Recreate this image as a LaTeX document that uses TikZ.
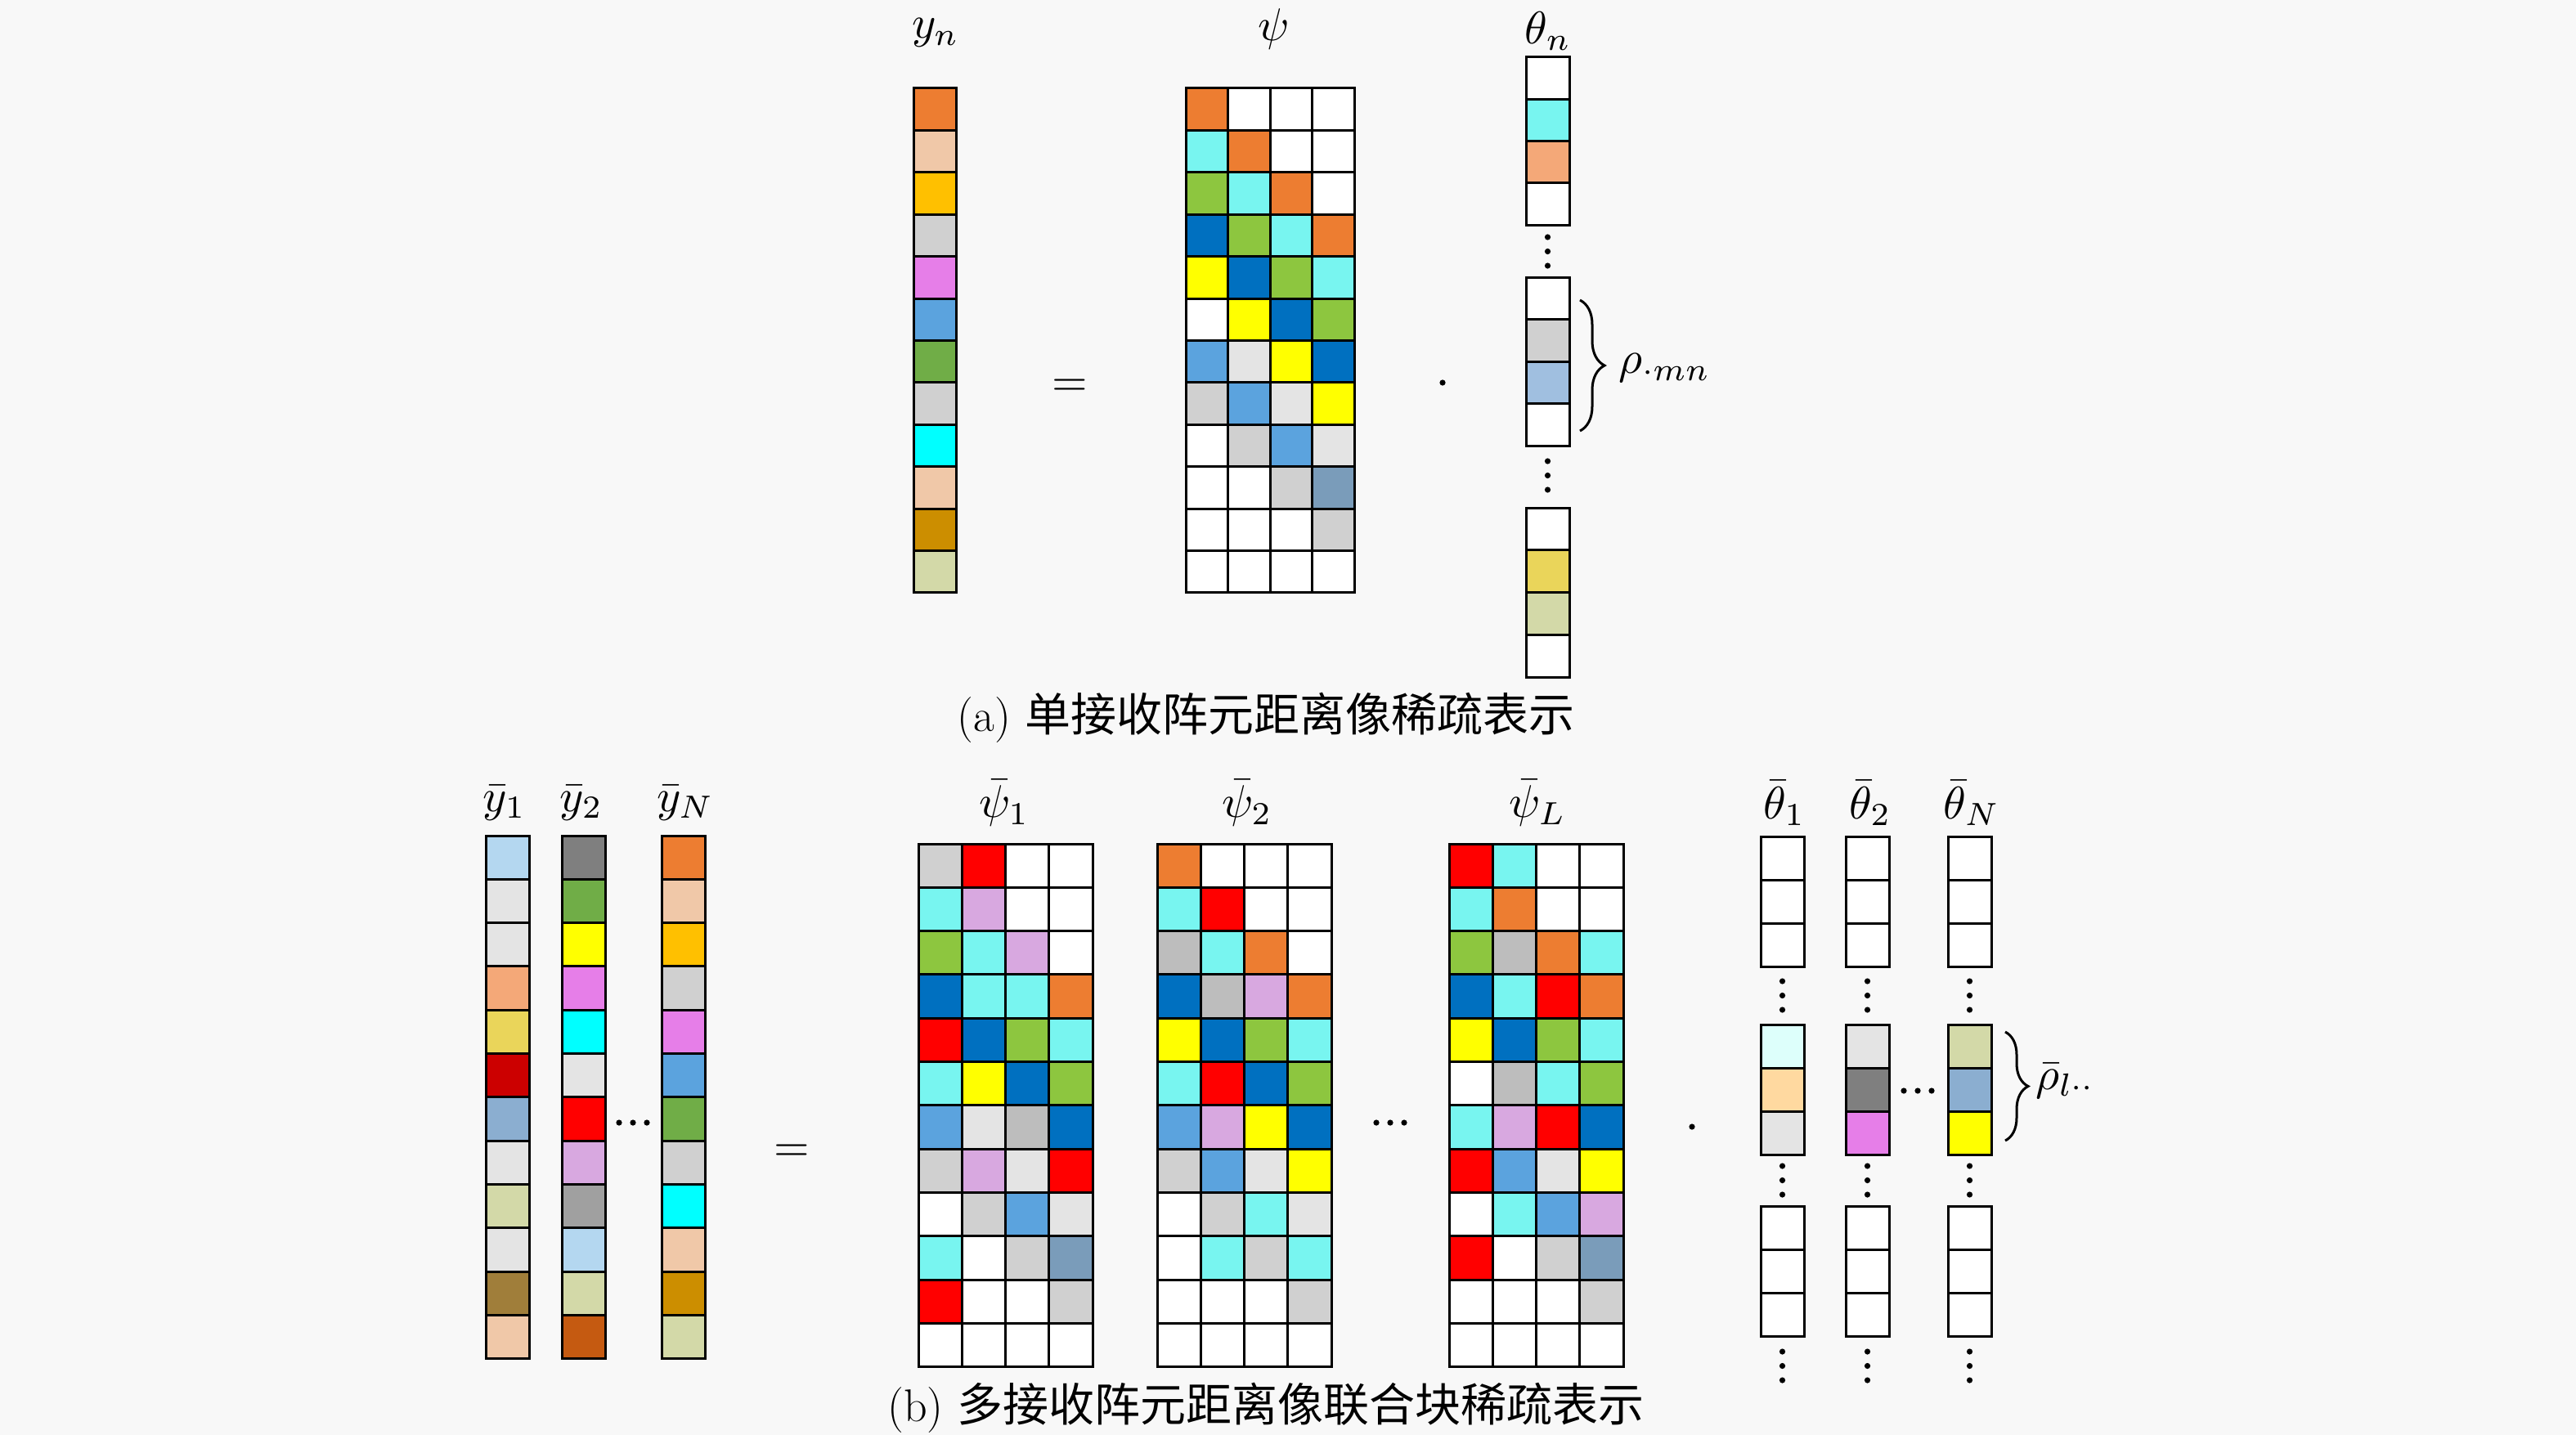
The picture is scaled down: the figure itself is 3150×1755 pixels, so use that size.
\documentclass[tikz,border=0pt]{standalone}
\usepackage{fontspec}
\newfontfamily\cjk{Noto Sans CJK SC}
\usetikzlibrary{decorations.pathreplacing}
\definecolor{bg}{HTML}{F8F8F8}
\definecolor{cOr}{HTML}{ED7D31}
\definecolor{cPe}{HTML}{F0C8A8}
\definecolor{cGo}{HTML}{FFC000}
\definecolor{cLg}{HTML}{D0D0D0}
\definecolor{cVi}{HTML}{E67EE8}
\definecolor{cBl}{HTML}{5BA3DE}
\definecolor{cGr}{HTML}{70AD47}
\definecolor{cCy}{HTML}{00FFFF}
\definecolor{cDg}{HTML}{CC8E00}
\definecolor{cKh}{HTML}{D3D9A8}
\definecolor{cLc}{HTML}{78F5F0}
\definecolor{cGa}{HTML}{8DC63F}
\definecolor{cDb}{HTML}{0070C0}
\definecolor{cYe}{HTML}{FFFF00}
\definecolor{cLt}{HTML}{E4E4E4}
\definecolor{cSb}{HTML}{7A9CBA}
\definecolor{cLo}{HTML}{F4A878}
\definecolor{cLb}{HTML}{A0BFE0}
\definecolor{cYg}{HTML}{EAD55A}
\definecolor{cSk}{HTML}{B4D7F0}
\definecolor{cDr}{HTML}{CC0000}
\definecolor{cSl}{HTML}{8BAED0}
\definecolor{cBr}{HTML}{A07E3A}
\definecolor{cDk}{HTML}{7F7F7F}
\definecolor{cRe}{HTML}{FF0000}
\definecolor{cLi}{HTML}{D8A8E0}
\definecolor{cGm}{HTML}{A0A0A0}
\definecolor{cBo}{HTML}{C55A11}
\definecolor{cGy}{HTML}{BDBDBD}
\definecolor{cIc}{HTML}{DDFFFB}
\definecolor{cAp}{HTML}{FFD9A0}
\tikzset{
  cellline/.style={draw=black, line width=3pt},
  lab/.style={font=\fontsize{10}{12}\selectfont, inner sep=0pt, scale=5.6, transform shape},
  capt/.style={font=\fontsize{56}{64}\selectfont, inner sep=0pt},
  dotc/.style={fill=black},
  bracestyle/.style={line width=3pt, decorate, decoration={brace, amplitude=#1}}
}
% column of cells: x0, y0, width, height, colors
\newcommand{\cellcolumn}[5]{%
  \foreach \cc [count=\ii from 0] in {#5} {
    \fill[fill=\cc] (#1,{#2+\ii*#4}) rectangle ++(#3,#4);
  }
  \foreach \cc [count=\ii from 0] in {#5} {
    \draw[cellline] (#1,{#2+\ii*#4}) rectangle ++(#3,#4);
  }
}
% matrix of cells: x0, y0, width, height, rows
\newcommand{\cellmatrix}[5]{%
  \foreach \rw [count=\rr from 0] in {#5} {
    \foreach \cc [count=\kk from 0] in \rw {
      \fill[fill=\cc] ({#1+\kk*#3},{#2+\rr*#4}) rectangle ++(#3,#4);
    }
  }
  \foreach \rw [count=\rr from 0] in {#5} {
    \foreach \cc [count=\kk from 0] in \rw {
      \draw[cellline] ({#1+\kk*#3},{#2+\rr*#4}) rectangle ++(#3,#4);
    }
  }
}
\newcommand{\vdotsat}[2]{% x, y of top dot
  \fill[dotc] ({#1},{#2}) circle (3.6);
  \fill[dotc] ({#1},{#2+17.5}) circle (3.6);
  \fill[dotc] ({#1},{#2+35}) circle (3.6);
}
\newcommand{\hdotsat}[2]{% x of left dot, y
  \fill[dotc] ({#1},{#2}) circle (3.6);
  \fill[dotc] ({#1+17},{#2}) circle (3.6);
  \fill[dotc] ({#1+34},{#2}) circle (3.6);
}
\begin{document}
\begin{tikzpicture}[x=1pt, y=-1pt]
\useasboundingbox (0,0) rectangle (3150,1755);
\fill[bg] (0,0) rectangle (3150,1755);

% ---------------- (a) ----------------
\node[lab] (lyn) at (1144,40) {$y_n$};
\node[lab] (lpsi) at (1558,36) {$\psi$};
\node[lab] (ltheta) at (1893,38) {$\theta_n$};

\cellcolumn{1117}{108}{52}{51.4}{cOr,cPe,cGo,cLg,cVi,cBl,cGr,cLg,cCy,cPe,cDg,cKh}

\node[lab] (eqa) at (1308,474) {$=$};

\cellmatrix{1450}{108}{51.5}{51.4}{
{cOr,white,white,white},
{cLc,cOr,white,white},
{cGa,cLc,cOr,white},
{cDb,cGa,cLc,cOr},
{cYe,cDb,cGa,cLc},
{white,cYe,cDb,cGa},
{cBl,cLt,cYe,cDb},
{cLg,cBl,cLt,cYe},
{white,cLg,cBl,cLt},
{white,white,cLg,cSb},
{white,white,white,cLg},
{white,white,white,white}}

\fill[dotc] (1764,468) circle (3.6);

\cellcolumn{1866}{70}{53}{51.3}{white,cLc,cLo,white}
\vdotsat{1892.5}{290}
\cellcolumn{1866}{339}{53}{51.5}{white,cLg,cLb,white}
\vdotsat{1892.5}{564}
\cellcolumn{1866}{621}{53}{51.8}{white,cYg,cKh,white}

\coordinate (bra1) at (1932,367);
\coordinate (bra2) at (1932,527);
\draw[bracestyle=30pt] (bra1) -- (bra2);
\node[lab, anchor=west] (lrho) at (1978,450) {$\rho_{\cdot mn}$};

\node[capt] (capa) at (1548,878) {(a) {\cjk 单接收阵元距离像稀疏表示}};

% ---------------- (b) ----------------
\node[lab] (ly1) at (617,982) {$\bar{y}_1$};
\node[lab] (ly2) at (711,982) {$\bar{y}_2$};
\node[lab] (lyN) at (838,982) {$\bar{y}_N$};

\cellcolumn{594}{1022}{53}{53.3}{cSk,cLt,cLt,cLo,cYg,cDr,cSl,cLt,cKh,cLt,cBr,cPe}
\cellcolumn{687}{1022}{53}{53.3}{cDk,cGr,cYe,cVi,cCy,cLt,cRe,cLi,cGm,cSk,cKh,cBo}
\hdotsat{757}{1373}
\cellcolumn{809}{1022}{53}{53.3}{cOr,cPe,cGo,cLg,cVi,cBl,cGr,cLg,cCy,cPe,cDg,cKh}

\node[lab] (eqb) at (968,1410) {$=$};

\node[lab] (lp1) at (1228,982) {$\bar{\psi}_1$};
\node[lab] (lp2) at (1525,982) {$\bar{\psi}_2$};
\node[lab] (lpL) at (1880,982) {$\bar{\psi}_L$};

\cellmatrix{1123}{1032}{53.3}{53.3}{
{cLg,cRe,white,white},
{cLc,cLi,white,white},
{cGa,cLc,cLi,white},
{cDb,cLc,cLc,cOr},
{cRe,cDb,cGa,cLc},
{cLc,cYe,cDb,cGa},
{cBl,cLt,cGy,cDb},
{cLg,cLi,cLt,cRe},
{white,cLg,cBl,cLt},
{cLc,white,cLg,cSb},
{cRe,white,white,cLg},
{white,white,white,white}}

\cellmatrix{1415}{1032}{53.3}{53.3}{
{cOr,white,white,white},
{cLc,cRe,white,white},
{cGy,cLc,cOr,white},
{cDb,cGy,cLi,cOr},
{cYe,cDb,cGa,cLc},
{cLc,cRe,cDb,cGa},
{cBl,cLi,cYe,cDb},
{cLg,cBl,cLt,cYe},
{white,cLg,cLc,cLt},
{white,cLc,cLg,cLc},
{white,white,white,cLg},
{white,white,white,white}}

\hdotsat{1683}{1373}

\cellmatrix{1772}{1032}{53.3}{53.3}{
{cRe,cLc,white,white},
{cLc,cOr,white,white},
{cGa,cGy,cOr,cLc},
{cDb,cLc,cRe,cOr},
{cYe,cDb,cGa,cLc},
{white,cGy,cLc,cGa},
{cLc,cLi,cRe,cDb},
{cRe,cBl,cLt,cYe},
{white,cLc,cBl,cLi},
{cRe,white,cLg,cSb},
{white,white,white,cLg},
{white,white,white,white}}

\fill[dotc] (2069,1378) circle (3.6);

\node[lab] (lt1) at (2182,982) {$\bar{\theta}_1$};
\node[lab] (lt2) at (2287,982) {$\bar{\theta}_2$};
\node[lab] (ltN) at (2411,982) {$\bar{\theta}_N$};

\cellcolumn{2153}{1023}{53}{53.3}{white,white,white}
\cellcolumn{2153}{1253}{53}{53.3}{cIc,cAp,cLt}
\cellcolumn{2153}{1475}{53}{53.3}{white,white,white}
\cellcolumn{2257}{1023}{53}{53.3}{white,white,white}
\cellcolumn{2257}{1253}{53}{53.3}{cLt,cDk,cVi}
\cellcolumn{2257}{1475}{53}{53.3}{white,white,white}
\cellcolumn{2382}{1023}{53}{53.3}{white,white,white}
\cellcolumn{2382}{1253}{53}{53.3}{cKh,cSl,cYe}
\cellcolumn{2382}{1475}{53}{53.3}{white,white,white}
\foreach \xx in {2179.5,2283.5,2408.5} {
  \vdotsat{\xx}{1200}
  \vdotsat{\xx}{1426}
  \vdotsat{\xx}{1653}
}
\hdotsat{2328}{1334}

\coordinate (brb1) at (2452,1262);
\coordinate (brb2) at (2452,1395);
\draw[bracestyle=28pt] (brb1) -- (brb2);
\node[lab, anchor=west] (lrhob) at (2488,1322) {$\bar{\rho}_{l\cdot\cdot}$};

\node[capt] (capb) at (1548,1722) {(b) {\cjk 多接收阵元距离像联合块稀疏表示}};
\end{tikzpicture}
\end{document}
